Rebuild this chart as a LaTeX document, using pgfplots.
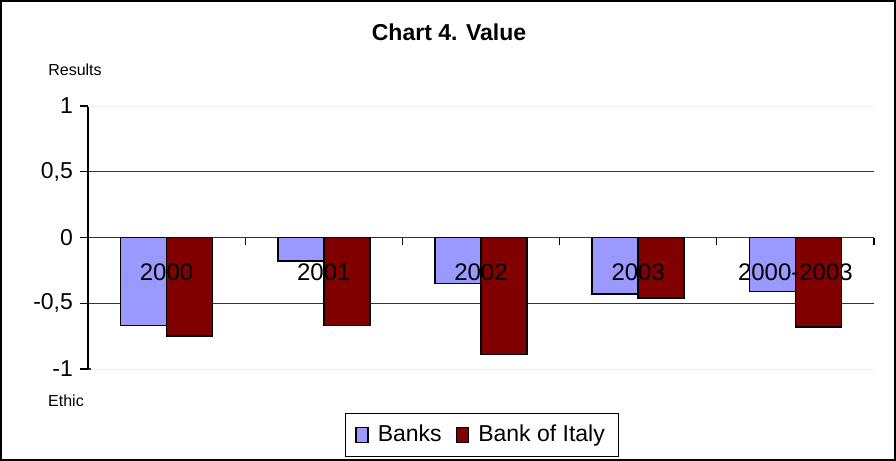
\documentclass[border=0pt]{standalone}
\usepackage{fontspec}
\setmainfont{Liberation Sans}
\usepackage{pgfplots}
\pgfplotsset{compat=1.18}
\definecolor{banks}{HTML}{9999FF}
\definecolor{boi}{HTML}{800000}
\pgfplotsset{sqlegend/.style={legend image code/.code={\draw[##1] (0pt,-3.8pt) rectangle (6pt,3.8pt);}}}

\begin{document}
\begin{tikzpicture}
% outer chart frame
\draw[black, line width=0.8pt] (-43.6pt,-45.6pt) rectangle (403.6pt,184.1pt);
\begin{axis}[at={(0,0)}, anchor=south west,
  scale only axis, width=393pt, height=131.5pt,
  xmin=-0.5, xmax=4.5, ymin=-1, ymax=1,
  axis x line=none, axis y line*=left,
  ytick={-1,-0.5,0,0.5,1},
  yticklabels={{-1},{-0,5},{0},{0,5},{1}},
  y tick label style={font=\fontsize{11.5}{13}\selectfont},
  tick align=outside, major tick length=4pt,
  y axis line style={line width=0.6pt},
  ytick style={black, line width=0.6pt},
  ymajorgrids, grid style={black!80, line width=0.6pt},
  ybar=0pt, bar width=23pt,
  clip=false,
  legend columns=2,
  legend style={at={(0.5013,-0.251)}, anchor=center, draw=black,
    line width=0.6pt, font=\fontsize{11.5}{13}\selectfont,
    inner xsep=5pt, inner ysep=4pt,
    /tikz/every odd column/.append style={column sep=2.5pt},
    /tikz/every even column/.append style={column sep=5pt}},
  ]
  \addplot[fill=banks, draw=black, line width=0.8pt, sqlegend]
    coordinates {(0,-0.67)(1,-0.18)(2,-0.35)(3,-0.43)(4,-0.41)};
  \addplot[fill=boi, draw=black, line width=0.8pt, sqlegend]
    coordinates {(0,-0.75)(1,-0.67)(2,-0.89)(3,-0.46)(4,-0.68)};
  \legend{Banks, Bank of Italy}
  % faint plot-area edges
  \draw[white, line width=1.2pt] (axis cs:-0.5,1) -- (axis cs:4.5,1);
  \draw[black!6, line width=0.5pt] (axis cs:-0.48,1) -- (axis cs:4.5,1);
  \draw[white, line width=1.2pt] (axis cs:-0.48,-1) -- (axis cs:4.5,-1);
  \draw[black!6, line width=0.5pt] (axis cs:-0.48,-1) -- (axis cs:4.5,-1);
  % category ticks on the zero line
  \draw[line width=0.6pt] (axis cs:0.5,0) -- ++(0pt,-3.5pt);
  \draw[line width=0.6pt] (axis cs:1.5,0) -- ++(0pt,-3.5pt);
  \draw[line width=0.6pt] (axis cs:2.5,0) -- ++(0pt,-3.5pt);
  \draw[line width=0.6pt] (axis cs:3.5,0) -- ++(0pt,-3.5pt);
  \draw[line width=0.6pt] (axis cs:4.5,0) -- ++(0pt,-3.5pt);
  % category labels
  \node[font=\fontsize{12}{14}\selectfont] at (axis cs:0,-0.266) {2000};
  \node[font=\fontsize{12}{14}\selectfont] at (axis cs:1,-0.266) {2001};
  \node[font=\fontsize{12}{14}\selectfont] at (axis cs:2,-0.266) {2002};
  \node[font=\fontsize{12}{14}\selectfont] at (axis cs:3,-0.266) {2003};
  \node[font=\fontsize{12}{14}\selectfont] at (axis cs:4,-0.266) {2000-2003};
\end{axis}
\node[font=\bfseries\fontsize{11.5}{13}\selectfont] at (180.5pt,168.5pt) {Chart 4. Value};
\node[font=\fontsize{8}{9}\selectfont] at (-6.5pt,149.5pt) {Results};
\node[font=\fontsize{8}{9}\selectfont] at (-11pt,-16pt) {Ethic};
\end{tikzpicture}
\end{document}
